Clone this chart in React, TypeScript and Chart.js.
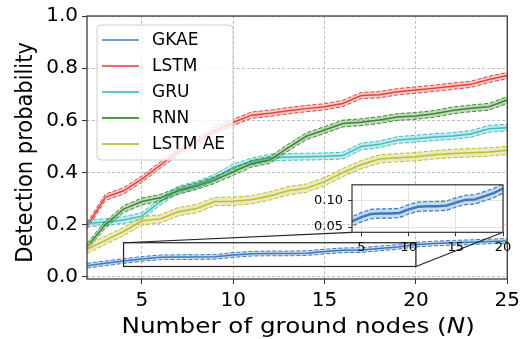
import React, { useEffect, useRef } from 'react';
import { Chart, registerables } from 'chart.js';

Chart.register(...registerables);

// ---------- data ----------
const nodes = [2, 3, 4, 5, 6, 7, 8, 9, 10, 11, 12, 13, 14, 15, 16, 17, 18, 19, 20, 21, 22, 23, 24, 25];
const gkae = [0.043, 0.052, 0.061, 0.069, 0.075, 0.076, 0.076, 0.077, 0.084, 0.089, 0.090, 0.090, 0.091, 0.097, 0.102, 0.103, 0.109, 0.115, 0.124, 0.128, 0.131, 0.133, 0.136, 0.138];
const lstm = [0.195, 0.305, 0.33, 0.375, 0.428, 0.48, 0.52, 0.56, 0.592, 0.62, 0.627, 0.637, 0.645, 0.652, 0.665, 0.695, 0.698, 0.71, 0.716, 0.723, 0.731, 0.738, 0.757, 0.772];
const gru = [0.205, 0.21, 0.218, 0.233, 0.288, 0.335, 0.353, 0.38, 0.42, 0.442, 0.457, 0.46, 0.461, 0.462, 0.465, 0.5, 0.508, 0.525, 0.53, 0.536, 0.54, 0.548, 0.568, 0.572];
const rnn = [0.116, 0.2, 0.26, 0.289, 0.303, 0.33, 0.348, 0.372, 0.402, 0.434, 0.448, 0.495, 0.539, 0.563, 0.588, 0.593, 0.601, 0.613, 0.617, 0.625, 0.638, 0.646, 0.652, 0.678];
const lstmAe = [0.106, 0.14, 0.174, 0.215, 0.222, 0.25, 0.262, 0.289, 0.29, 0.296, 0.31, 0.33, 0.34, 0.365, 0.4, 0.43, 0.452, 0.457, 0.461, 0.468, 0.473, 0.476, 0.479, 0.485];
// half-width of the shaded confidence band of each series
const bandHalfWidths = [0.009, 0.012, 0.013, 0.013, 0.016];
const seriesNames = ['GKAE', 'LSTM', 'GRU', 'RNN', 'LSTM AE'];

const xTickValues = [5, 10, 15, 20, 25];
const yTickValues = [0, 0.2, 0.4, 0.6, 0.8, 1.0];
const xRange = [2, 25];
const yRange = [-0.008, 1.0];

const insetXTicks = [5, 10, 15, 20];
const insetYTicks = [0.05, 0.1];
const insetXRange = [4, 20];
const insetYRange = [0.04, 0.131];

const xTitle = ['Number of ground nodes (', 'N', ')'];
const yTitle = 'Detection probability';

// ---------- styles ----------
const lineColors = ['#3b7bbf', '#e8413a', '#41bcc4', '#3a8a2e', '#bdbd33'];
const bandColors = ['rgba(59,123,191,0.28)', 'rgba(232,65,58,0.28)', 'rgba(65,188,196,0.32)', 'rgba(58,138,46,0.32)', 'rgba(189,189,51,0.32)'];
const legendColors = ['#6d9fd3', '#ef6a63', '#5ccbd0', '#4f9a45', '#c6c655'];
const FONT = '"DejaVu Sans", sans-serif';

const seriesValues = [gkae, lstm, gru, rnn, lstmAe];

function makeSeriesSets(idx: number, mainWidth: number, dashWidth: number) {
  const vals = seriesValues[idx];
  const b = bandHalfWidths[idx];
  const pts = (sign: number) => nodes.map((x, i) => ({ x, y: vals[i] + sign * b }));
  const common = { pointRadius: 0, pointHoverRadius: 0, tension: 0, order: -idx };
  return [
    { ...common, label: seriesNames[idx] + ' lower', data: pts(-1), borderColor: lineColors[idx], borderWidth: dashWidth, borderDash: [4, 2], fill: false },
    { ...common, label: seriesNames[idx] + ' upper', data: pts(1), borderColor: lineColors[idx], borderWidth: dashWidth, borderDash: [4, 2], fill: '-1', backgroundColor: bandColors[idx] },
    { ...common, label: seriesNames[idx], data: nodes.map((x, i) => ({ x, y: vals[i] })), borderColor: lineColors[idx], borderWidth: mainWidth, fill: false },
  ];
}

function roundRectPath(ctx: CanvasRenderingContext2D, x: number, y: number, w: number, h: number, r: number) {
  ctx.beginPath();
  ctx.moveTo(x + r, y);
  ctx.arcTo(x + w, y, x + w, y + h, r);
  ctx.arcTo(x + w, y + h, x, y + h, r);
  ctx.arcTo(x, y + h, x, y, r);
  ctx.arcTo(x, y, x + w, y, r);
  ctx.closePath();
}

export default function App() {
  const mainRef = useRef<HTMLCanvasElement>(null);
  const insetRef = useRef<HTMLCanvasElement>(null);

  useEffect(() => {
    document.body.style.margin = '0';
    if (!mainRef.current || !insetRef.current) return;

    const INSET_LEFT = 300;
    const INSET_TOP = 172;

    // ---------- inset chart ----------
    const insetChart = new Chart(insetRef.current, {
      type: 'line',
      data: { datasets: makeSeriesSets(0, 2.4, 1.2) as any },
      options: {
        animation: false,
        responsive: false,
        devicePixelRatio: 1,
        layout: { padding: { left: 0, top: 9, right: 17, bottom: 0 } },
        plugins: { legend: { display: false }, tooltip: { enabled: false } },
        scales: {
          x: {
            type: 'linear', min: insetXRange[0], max: insetXRange[1],
            afterBuildTicks: (s: any) => { s.ticks = insetXTicks.map((v) => ({ value: v })); },
            afterFit: (s: any) => { s.height = 25.7; },
            ticks: { color: '#000', font: { family: FONT, size: 13 }, padding: 4, autoSkip: false, maxRotation: 0, callback: (v: any) => String(v) },
            grid: { color: '#e4e4e4', lineWidth: 1, tickLength: 4, tickColor: '#333', tickWidth: 1 },
            border: { display: false },
          },
          y: {
            type: 'linear', min: insetYRange[0], max: insetYRange[1],
            afterBuildTicks: (s: any) => { s.ticks = insetYTicks.map((v) => ({ value: v })); },
            afterFit: (s: any) => { s.width = 52; },
            ticks: { color: '#000', font: { family: FONT, size: 13 }, padding: 5, callback: (v: any) => Number(v).toFixed(2) },
            grid: { color: '#e4e4e4', lineWidth: 1, tickLength: 4, tickColor: '#333', tickWidth: 1 },
            border: { display: false },
          },
        },
      },
      plugins: [{
        id: 'insetDecor',
        beforeDraw(chart: any) {
          const { left, top, width, height } = chart.chartArea;
          const ctx = chart.ctx;
          ctx.save();
          ctx.fillStyle = '#ffffff';
          ctx.fillRect(left, top, width, height);
          ctx.restore();
        },
        afterDraw(chart: any) {
          const { left, top, width, height } = chart.chartArea;
          const ctx = chart.ctx;
          ctx.save();
          ctx.strokeStyle = '#333';
          ctx.lineWidth = 1.2;
          ctx.strokeRect(left, top, width, height);
          ctx.restore();
        },
      }],
    } as any);

    // ---------- main chart ----------
    const allSets: any[] = [];
    for (let k = 0; k < seriesNames.length; k++) allSets.push(...makeSeriesSets(k, 1.5, 1));

    const mainChart = new Chart(mainRef.current, {
      type: 'line',
      data: { datasets: allSets },
      options: {
        animation: false,
        responsive: false,
        devicePixelRatio: 1,
        layout: { padding: { left: 0, top: 16, right: 14.8, bottom: 0 } },
        plugins: { legend: { display: false }, tooltip: { enabled: false } },
        scales: {
          x: {
            type: 'linear', min: xRange[0], max: xRange[1],
            afterBuildTicks: (s: any) => { s.ticks = xTickValues.map((v) => ({ value: v })); },
            afterFit: (s: any) => { s.height = 60; },
            ticks: { color: '#000', font: { family: FONT, size: 20 }, padding: 5, autoSkip: false, maxRotation: 0, callback: (v: any) => String(v) },
            grid: { color: '#b0b0b0', lineWidth: 0.8, tickLength: 5, tickColor: '#333', tickWidth: 1, tickBorderDash: [] },
            border: { display: false, dash: [3, 2] },
          },
          y: {
            type: 'linear', min: yRange[0], max: yRange[1],
            afterBuildTicks: (s: any) => { s.ticks = yTickValues.map((v) => ({ value: v })); },
            afterFit: (s: any) => { s.width = 87; },
            ticks: { color: '#000', font: { family: FONT, size: 20 }, padding: 4, callback: (v: any) => Number(v).toFixed(1) },
            grid: { color: '#b0b0b0', lineWidth: 0.8, tickLength: 5, tickColor: '#333', tickWidth: 1, tickBorderDash: [] },
            border: { display: false, dash: [3, 2] },
          },
        },
      },
      plugins: [{
        id: 'mainDecor',
        afterDatasetsDraw(chart: any) {
          const ctx: CanvasRenderingContext2D = chart.ctx;
          const xs = chart.scales.x;
          const ys = chart.scales.y;
          const ca = chart.chartArea;
          // inset indicator rectangle
          const rx0 = xs.getPixelForValue(insetXRange[0]);
          const rx1 = xs.getPixelForValue(insetXRange[1]);
          const ry0 = ys.getPixelForValue(insetYRange[1]);
          const ry1 = ys.getPixelForValue(insetYRange[0]);
          ctx.save();
          ctx.strokeStyle = '#222';
          ctx.lineWidth = 1.2;
          ctx.strokeRect(rx0, ry0, rx1 - rx0, ry1 - ry0);
          const ia = insetChart.chartArea;
          const iLeft = INSET_LEFT + ia.left;
          const iRight = INSET_LEFT + ia.right;
          const iBottom = INSET_TOP + ia.bottom;
          ctx.beginPath();
          ctx.moveTo(rx0, ry0);
          ctx.lineTo(iLeft, iBottom);
          ctx.moveTo(rx1, ry1);
          ctx.lineTo(iRight, iBottom);
          ctx.stroke();
          ctx.restore();

          // legend
          const lx = ca.left + 10;
          const ly = ca.top + 9;
          const lw = 136;
          const lh = 135;
          ctx.save();
          roundRectPath(ctx, lx, ly, lw, lh, 4);
          ctx.fillStyle = 'rgba(255,255,255,0.8)';
          ctx.fill();
          ctx.strokeStyle = '#cccccc';
          ctx.lineWidth = 1;
          ctx.stroke();
          ctx.font = '17px ' + FONT;
          ctx.textBaseline = 'middle';
          ctx.textAlign = 'left';
          for (let i = 0; i < seriesNames.length; i++) {
            const yy = ly + 15 + 26 * i;
            ctx.strokeStyle = legendColors[i];
            ctx.lineWidth = 2;
            ctx.beginPath();
            ctx.moveTo(lx + 5, yy);
            ctx.lineTo(lx + 42, yy);
            ctx.stroke();
            ctx.fillStyle = '#000';
            ctx.fillText(seriesNames[i], lx + 55, yy + 1);
          }
          ctx.restore();
        },
        afterDraw(chart: any) {
          const ctx: CanvasRenderingContext2D = chart.ctx;
          const ca = chart.chartArea;
          ctx.save();
          ctx.strokeStyle = '#3a3a3a';
          ctx.lineWidth = 1.3;
          ctx.strokeRect(ca.left, ca.top, ca.right - ca.left, ca.bottom - ca.top);

          // x title (with italic N)
          ctx.fillStyle = '#000';
          ctx.textBaseline = 'alphabetic';
          ctx.textAlign = 'left';
          const fonts = ['22px ' + FONT, 'italic 22px ' + FONT, '22px ' + FONT];
          const widths = xTitle.map((t, i) => { ctx.font = fonts[i]; return ctx.measureText(t).width; });
          const total = widths.reduce((a, b) => a + b, 0);
          ctx.save();
          ctx.translate((ca.left + ca.right) / 2 + 1, 333);
          ctx.scale(1.12, 1);
          let cx = -total / 2;
          xTitle.forEach((t, i) => { ctx.font = fonts[i]; ctx.fillText(t, cx, 0); cx += widths[i]; });
          ctx.restore();

          // y title
          ctx.save();
          ctx.translate(31.5, 152.5);
          ctx.scale(1.12, 1);
          ctx.rotate(-Math.PI / 2);
          ctx.font = '21px ' + FONT;
          ctx.textAlign = 'center';
          ctx.fillText(yTitle, 0, 0);
          ctx.restore();
          ctx.restore();
        },
      }],
    } as any);

    return () => {
      mainChart.destroy();
      insetChart.destroy();
    };
  }, []);

  return (
    <div style={{ position: 'relative', width: 525, height: 339 }}>
      <canvas ref={mainRef} width={525} height={339} style={{ position: 'absolute', left: 0, top: 0 }} />
      <canvas ref={insetRef} width={220} height={86} style={{ position: 'absolute', left: 300, top: 172 }} />
    </div>
  );
}
